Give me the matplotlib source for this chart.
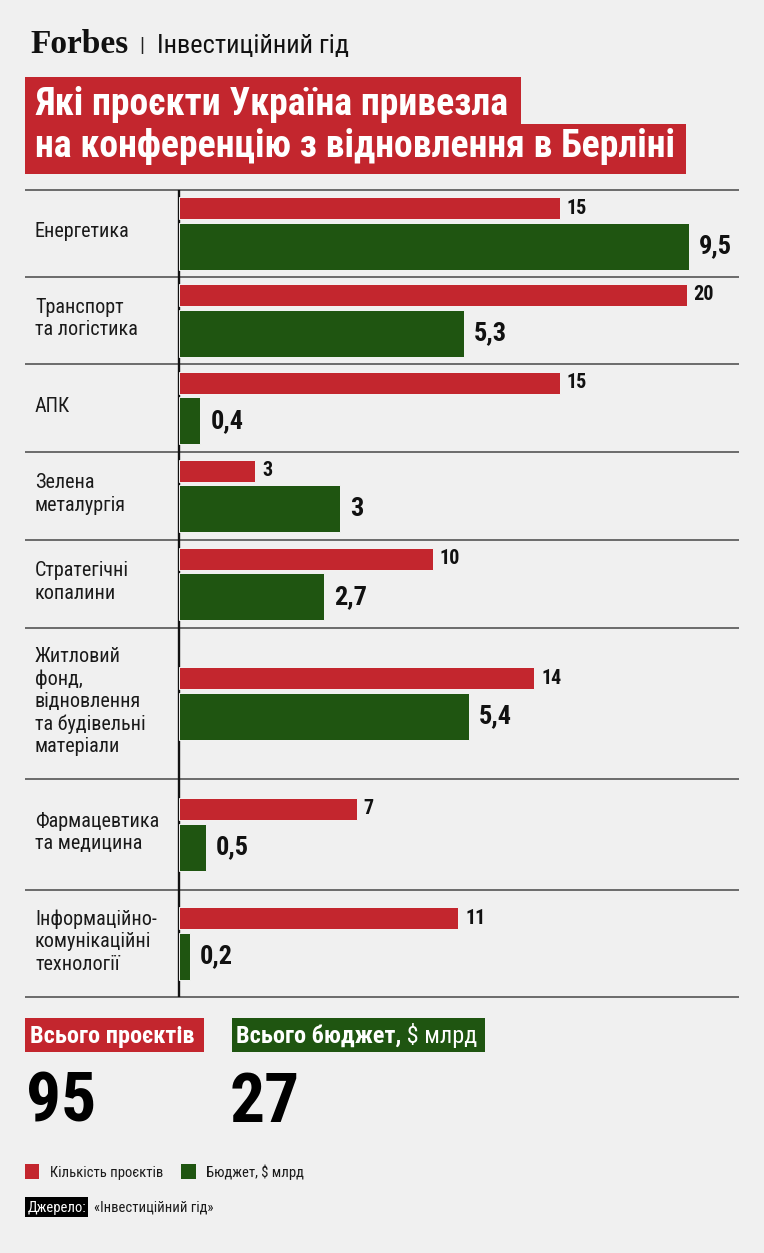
import numpy as np
import matplotlib
matplotlib.use("Agg")
import matplotlib.pyplot as plt
from matplotlib.patches import Rectangle

# data
categories = [
    "Енергетика",
    "Транспорт\nта логістика",
    "АПК",
    "Зелена\nметалургія",
    "Стратегічні\nкопалини",
    "Житловий\nфонд,\nвідновлення\nта будівельні\nматеріали",
    "Фармацевтика\nта медицина",
    "Інформаційно-\nкомунікаційні\nтехнології",
]
projects = [15, 20, 15, 3, 10, 14, 7, 11]
budget = [9.5, 5.3, 0.4, 3, 2.7, 5.4, 0.5, 0.2]

title_lines = ["Які проєкти Україна привезла", "на конференцію з відновлення в Берліні"]
legend_labels = ["Кількість проєктів", "Бюджет, $ млрд"]

RED = "#C3262E"
GREEN = "#1F5511"
BG = "#F0F0F0"
W, H = 764, 1253

plt.rcParams["font.family"] = ["Roboto Condensed", "Roboto", "DejaVu Sans"]

fig = plt.figure(figsize=(W / 100, H / 100), dpi=100, facecolor=BG)

# background axes in pixel coords for layout pieces
bg = fig.add_axes([0, 0, 1, 1])
bg.set_xlim(0, W)
bg.set_ylim(H, 0)
bg.axis("off")


def box(x0, y0, x1, y1, color):
    bg.add_patch(Rectangle((x0, y0), x1 - x0, y1 - y0, facecolor=color, edgecolor="none"))


# header
bg.text(30, 53, "Forbes", fontsize=24, fontweight="bold",
        family=["Liberation Serif", "DejaVu Serif"], color="#111111", va="baseline")
bg.text(139, 52, "|", fontsize=15, color="#222222", va="baseline")
bg.text(157, 53, "Інвестиційний гід", fontsize=19, color="#111111", va="baseline")

# title
box(25, 77, 521, 126, RED)
box(25, 124, 686, 174, RED)
bg.text(35, 115, title_lines[0], fontsize=27.2, fontweight="bold", color="white", va="baseline")
bg.text(35, 157, title_lines[1], fontsize=27.2, fontweight="bold", color="white", va="baseline")

# chart rows
top, bottom = 190, 997
row_h = [87, 87, 88, 88, 88, 151, 111, 107]
edges = top + np.concatenate([[0], np.cumsum(row_h)])
centers = (edges[:-1] + edges[1:]) / 2

bg.hlines(edges, 25, 739, color="#555555", lw=1.2)
bg.vlines(178.5, top, bottom, color="#111111", lw=1.7, zorder=5)

for yc, lab in zip(centers, categories):
    bg.text(35, yc - 2, lab, fontsize=14.5, color="#1a1a1a", va="center", linespacing=1.22)

red_h, green_h, gap = 22, 47, 4
pair = red_h + gap + green_h
red_y = centers - pair / 2 + red_h / 2
green_y = centers - pair / 2 + red_h + gap + green_h / 2

x_left, x_right = 179, 739
ax = fig.add_axes([x_left / W, 1 - bottom / H, (x_right - x_left) / W, (bottom - top) / H])
ax.set_ylim(bottom, top)
ax.set_xlim(0, (x_right - x_left) / 25.38)
ax.axis("off")
ax.patch.set_alpha(0)
ax2 = ax.twiny()
ax2.set_ylim(bottom, top)
ax2.set_xlim(0, (x_right - x_left) / 53.7)
ax2.axis("off")

ax.barh(red_y, projects, height=red_h, color=RED, edgecolor="#f4f4f4", linewidth=0.7)
ax2.barh(green_y, budget, height=green_h, color=GREEN, edgecolor="#f4f4f4", linewidth=0.7)

for v, y in zip(projects, red_y):
    ax.annotate(f"{v}", xy=(v, y), xytext=(7, 0), textcoords="offset pixels",
                va="center", fontsize=14.5, fontweight="bold", color="#111111")
for v, y in zip(budget, green_y):
    ax2.annotate(f"{v:g}".replace(".", ","), xy=(v, y), xytext=(10, 0), textcoords="offset pixels",
                 va="center", fontsize=19, fontweight="bold", color="#111111")

# totals
box(25, 1018, 204, 1052, RED)
bg.text(30, 1043, "Всього проєктів", fontsize=17.5, fontweight="bold", color="white", va="baseline")
box(232, 1018, 485, 1052, GREEN)
t1 = bg.text(236, 1043, "Всього бюджет,", fontsize=17.5, fontweight="bold", color="white", va="baseline")
bg.annotate(" $ млрд", xy=(1, 0), xycoords=t1, va="bottom", ha="left",
            fontsize=17.5, color="white")

bg.text(26, 1122, f"{sum(projects)}", fontsize=50, fontweight="bold", color="#000000", va="baseline")
bg.text(230, 1122, f"{sum(budget):g}".replace(".", ","), fontsize=50, fontweight="bold",
        color="#000000", va="baseline")

# legend
box(25, 1164, 39, 1179, RED)
bg.text(50, 1177, legend_labels[0], fontsize=10.5, color="#1a1a1a", va="baseline")
box(181, 1164, 196, 1179, GREEN)
bg.text(206, 1177, legend_labels[1], fontsize=10.5, color="#1a1a1a", va="baseline")

# source
box(25, 1197, 88, 1217, "#000000")
bg.text(28, 1212, "Джерело:", fontsize=10.5, color="white", va="baseline")
bg.text(94, 1212, "«Інвестиційний гід»", fontsize=10.5, color="#1a1a1a", va="baseline")

fig.savefig("out.png", dpi=100, facecolor=BG)
